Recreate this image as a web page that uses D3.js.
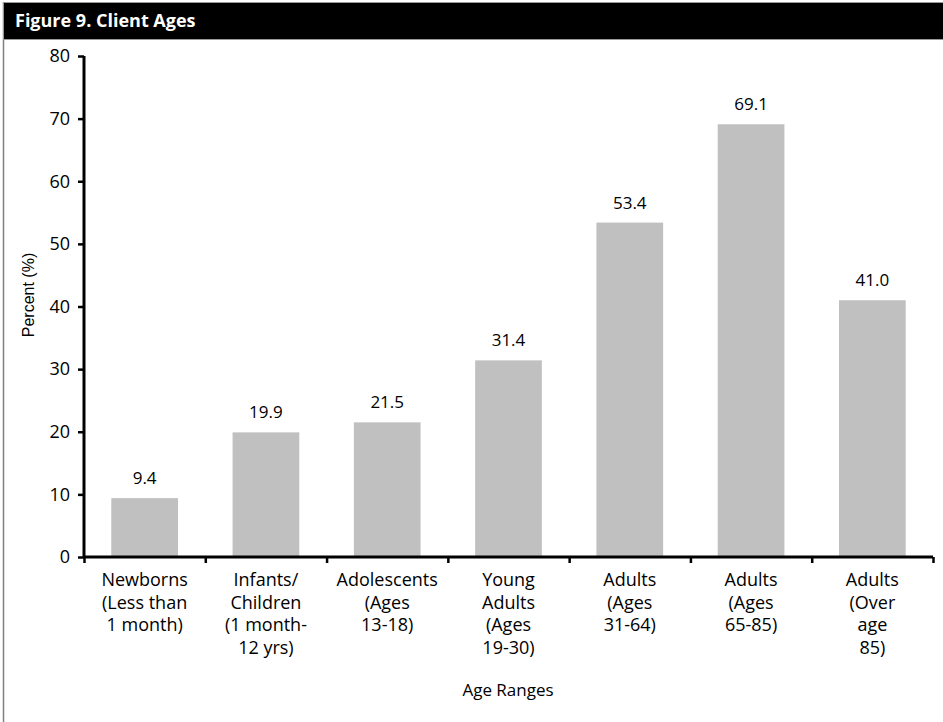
<!DOCTYPE html>
<html><head><meta charset="utf-8">
<script src="https://cdn.jsdelivr.net/npm/d3@7"></script>
<style>
html,body{margin:0;padding:0;background:#fff;}
svg{display:block;font-family:"Open Sans","Noto Sans",sans-serif;}
</style></head>
<body>
<svg id="chart" width="943" height="722"></svg>
<script>
const title = "Figure 9. Client Ages";
const categories = [
  ["Newborns","(Less than","1 month)"],
  ["Infants/","Children","(1 month-","12 yrs)"],
  ["Adolescents","(Ages","13-18)"],
  ["Young","Adults","(Ages","19-30)"],
  ["Adults","(Ages","31-64)"],
  ["Adults","(Ages","65-85)"],
  ["Adults","(Over","age","85)"]
];
const values = [9.4, 19.9, 21.5, 31.4, 53.4, 69.1, 41.0];
const yTicks = [0,10,20,30,40,50,60,70,80];
const yTitle = "Percent (%)";
const xTitle = "Age Ranges";

const svg = d3.select("#chart");
const W = 943, H = 722;
const pL = 84, pR = 933, pT = 56, pB = 557;

// frame
svg.append("line").attr("x1",3.5).attr("x2",3.5).attr("y1",2).attr("y2",H).attr("stroke","#808080").attr("stroke-width",1.5);
svg.append("rect").attr("x",3).attr("y",2).attr("width",W-3).attr("height",38).attr("fill","#999");
svg.append("rect").attr("x",4).attr("y",3).attr("width",W-4).attr("height",36).attr("fill","#000");
svg.append("text").attr("x",15).attr("y",27).attr("fill","#fff")
  .attr("font-size",18).attr("font-weight","bold").text(title);

const keys = categories.map((c,i)=>i);
const x = d3.scaleBand().domain(keys).range([pL,pR]).paddingInner(0.45).paddingOuter(0.225);
const xb = d3.scaleLinear().domain([0,categories.length]).range([pL,pR]);
const y = d3.scaleLinear().domain([0,80]).range([pB,pT]);

// bars
svg.append("g").selectAll("rect").data(values).join("rect")
  .attr("x",(d,i)=>x(i)).attr("width",x.bandwidth())
  .attr("y",d=>y(d)).attr("height",d=>y(0)-y(d))
  .attr("fill","#c0c0c0");

// value labels
svg.append("g").selectAll("text").data(values).join("text")
  .attr("x",(d,i)=>x(i)+x.bandwidth()/2).attr("y",d=>y(d)-14)
  .attr("text-anchor","middle").attr("font-size",17).attr("fill","#000")
  .text(d=>d3.format(".1f")(d));

// y axis
const ya = svg.append("g").attr("transform",`translate(${pL},0)`)
  .call(d3.axisLeft(y).tickValues(yTicks).tickSize(6).tickPadding(8).tickFormat(d3.format("d")));
ya.select(".domain").attr("stroke","#000").attr("stroke-width",3).attr("d",`M0,${pT}V${pB}`);
ya.selectAll(".tick line").attr("stroke","#000").attr("stroke-width",2.5);
ya.selectAll(".tick text").attr("font-size",18).attr("fill","#000").attr("font-family","Open Sans");

// x axis
const xa = svg.append("g").attr("transform",`translate(0,${pB})`)
  .call(d3.axisBottom(xb).tickValues(d3.range(categories.length+1)).tickSize(6).tickFormat(""));
xa.select(".domain").attr("stroke","#000").attr("stroke-width",3).attr("d",`M${pL},0H${pR}`);
xa.selectAll(".tick line").attr("stroke","#000").attr("stroke-width",2.5);

// category labels
const cl = svg.append("g").selectAll("text").data(categories).join("text")
  .attr("x",(d,i)=>x(i)+x.bandwidth()/2).attr("y",586)
  .attr("text-anchor","middle").attr("font-size",18).attr("fill","#000");
cl.selectAll("tspan").data(d=>d).join("tspan")
  .attr("x",function(){return this.parentNode.getAttribute("x");})
  .attr("dy",(d,j)=>j===0?0:22.5).text(d=>d);

// axis titles
svg.append("text").attr("transform","translate(34,295) rotate(-90)")
  .attr("text-anchor","middle").attr("font-size",16).attr("fill","#000")
  .attr("font-family","Liberation Sans, Arial, sans-serif").text(yTitle);
svg.append("text").attr("x",508).attr("y",696).attr("text-anchor","middle")
  .attr("font-size",17).attr("fill","#000").text(xTitle);
</script>
</body></html>
